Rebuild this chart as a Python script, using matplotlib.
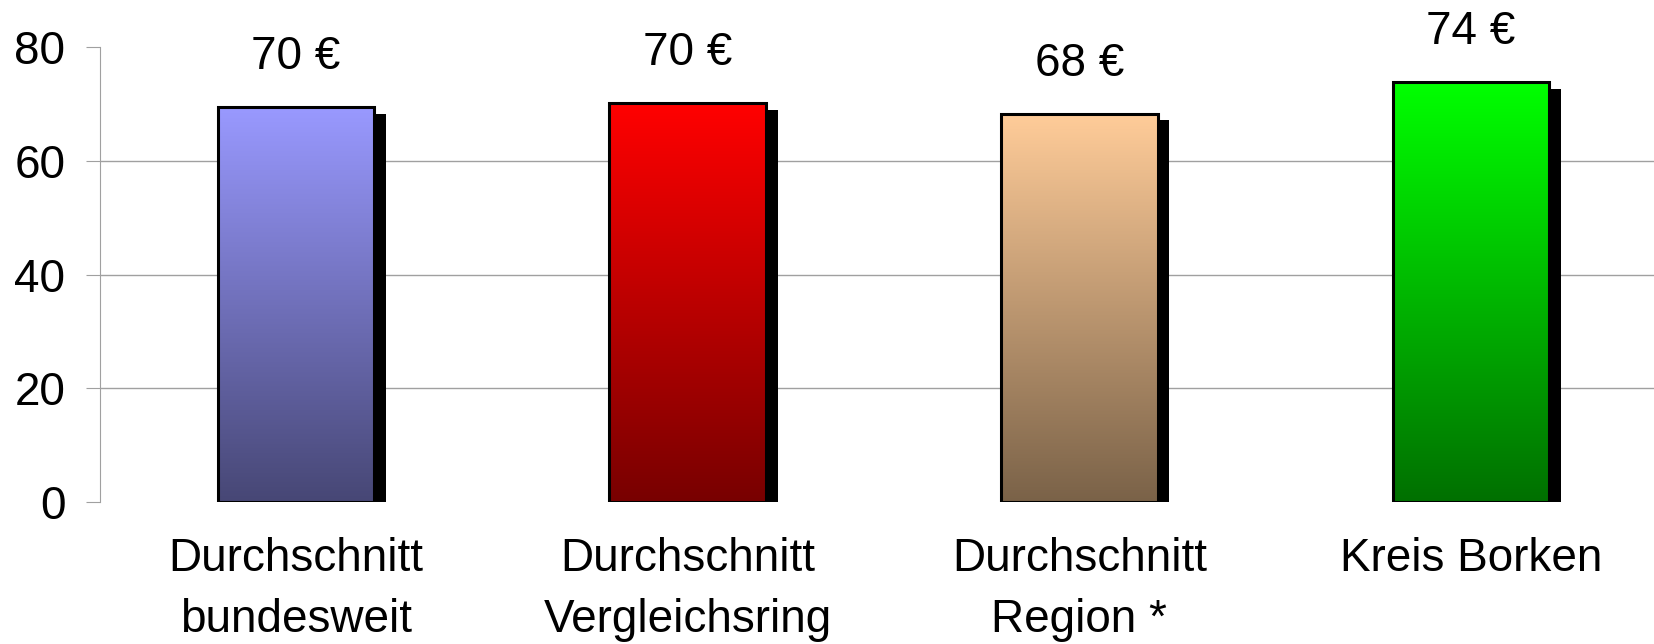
import numpy as np
import matplotlib
matplotlib.use('Agg')
import matplotlib.pyplot as plt
import matplotlib.patheffects as pe
from matplotlib.colors import LinearSegmentedColormap

plt.rcParams['font.family'] = ['Liberation Sans', 'DejaVu Sans']

categories = ['Durchschnitt\nbundesweit', 'Durchschnitt\nVergleichsring',
              'Durchschnitt\nRegion *', 'Kreis Borken']
values = [69.4, 70.1, 68.2, 73.8]
labels = ['70 €', '70 €', '68 €', '74 €']

# Verlauf oben -> unten
top_colors = ['#9999ff', '#ff0000', '#ffcc99', '#00ff00']
bottom_colors = ['#474775', '#780000', '#7a6248', '#007000']

fig = plt.figure(figsize=(16.54, 6.44), dpi=100)
ax = fig.add_axes([100 / 1654, 142 / 644, 1 - 100 / 1654, 455 / 644])

x = np.arange(len(categories))
w = 0.4
bars = ax.bar(x, values, width=w, color='k', zorder=2)
for b, top, bot in zip(bars, top_colors, bottom_colors):
    b.set_path_effects([pe.SimplePatchShadow(offset=(8.5, -4.5), shadow_rgbFace='k', alpha=1),
                        pe.Normal()])
    cmap = LinearSegmentedColormap.from_list('g', [bot, top])
    grad = np.linspace(0, 1, 256).reshape(-1, 1)
    x0, y0 = b.get_x(), b.get_y()
    im = ax.imshow(grad, cmap=cmap, origin='lower', aspect='auto',
                   extent=[x0, x0 + b.get_width(), y0, y0 + b.get_height()], zorder=3)
    im.set_clip_path(b)
    ax.add_patch(plt.Rectangle((x0, y0), b.get_width(), b.get_height(),
                               fill=False, edgecolor='k', linewidth=2.2, zorder=4))

for xi, v, lab in zip(x, values, labels):
    ax.annotate(lab, (xi, v), xytext=(0, 36), textcoords='offset points',
                ha='center', va='center', fontsize=33)

ax.set_xlim(-0.5, 3.467)
ax.set_ylim(0, 80)
ax.set_yticks([0, 20, 40, 60, 80])
ax.set_xticks(x)
ax.set_xticklabels(categories, fontsize=33, linespacing=1.5)
ax.tick_params(axis='x', length=0, pad=25)
ax.tick_params(axis='y', length=10, color='#a0a0a0', labelsize=33, pad=15)
for yv in [20, 40, 60]:
    ax.axhline(yv, color='#a0a0a0', linewidth=1, zorder=1)
for s in ['top', 'right', 'bottom']:
    ax.spines[s].set_visible(False)
ax.spines['left'].set_color('#a0a0a0')

fig.savefig('out.png', dpi=100)
